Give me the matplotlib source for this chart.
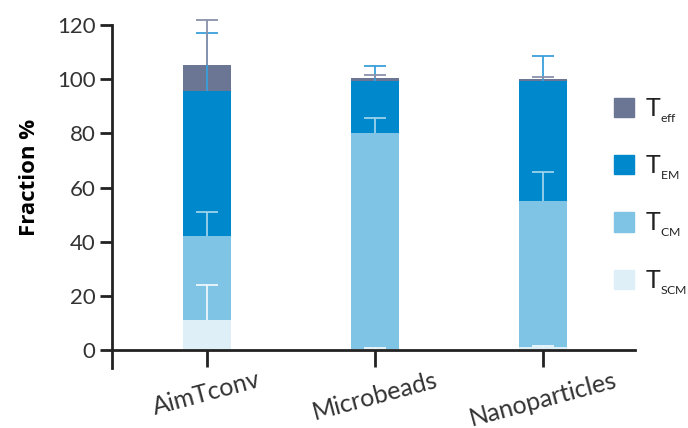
import numpy as np
import matplotlib.pyplot as plt
from matplotlib.patches import Patch

plt.rcParams['font.family'] = ['Lato', 'DejaVu Sans']
plt.rcParams['mathtext.fontset'] = 'custom'
plt.rcParams['mathtext.rm'] = 'Lato'

# T cell subset fractions per expansion method (mean %)
categories = ['AimTconv', 'Microbeads', 'Nanoparticles']
t_scm = [11.0, 0.3, 1.2]
t_cm = [31.0, 79.8, 53.8]
t_em = [53.6, 19.3, 44.4]
t_eff = [9.6, 0.9, 0.6]

# upper error (SD) for each subset
t_scm_err = [13.0, 0.3, 0.4]
t_cm_err = [9.0, 5.4, 10.6]
t_em_err = [21.4, 5.6, 9.2]
t_eff_err = [16.7, 1.2, 0.8]

# double subscript -> small, low-set index like the journal style
labels = [r'$\mathregular{T_{_{SCM}}}$', r'$\mathregular{T_{_{CM}}}$',
          r'$\mathregular{T_{_{EM}}}$', r'$\mathregular{T_{_{eff}}}$']
colors = ['#dfeff8', '#7fc4e4', '#0088cc', '#6b7594']
err_colors = ['#eef7fc', '#9dd2ec', '#3a9fda', '#8a91ab']

fig = plt.figure(figsize=(6.88, 4.28), dpi=100)
ax = fig.add_axes([0.1628, 0.1404, 0.7602, 0.8138])

x = np.arange(len(categories))
width = 0.286
bottom = np.zeros(len(categories))
handles = []
for vals, errs, c, ec, lab in zip([t_scm, t_cm, t_em, t_eff],
                                  [t_scm_err, t_cm_err, t_em_err, t_eff_err],
                                  colors, err_colors, labels):
    vals = np.array(vals)
    ax.bar(x, vals, width, bottom=bottom, color=c, zorder=2)
    top = bottom + vals
    _, caps, _ = ax.errorbar(x, top, yerr=[np.zeros(len(x)), errs], fmt='none',
                             ecolor=ec, elinewidth=1.3, capsize=8, capthick=1.3,
                             zorder=3, clip_on=False)
    caps[0].set_visible(False)  # only the upper whisker gets a cap
    handles.append(Patch(color=c, label=lab))
    bottom = top

ax.set_xlim(-0.565, 2.548)
ax.set_ylim(-6.6, 122)
ax.set_yticks(range(0, 121, 20))
ax.set_xticks(x)
ax.set_xticklabels(categories, family=['Open Sans', 'DejaVu Sans'])
ax.set_ylabel('Fraction %', fontsize=16, fontweight='bold',
              family=['Open Sans', 'DejaVu Sans'])
ax.yaxis.set_label_coords(-0.138, 0.547)

for s in ['top', 'right']:
    ax.spines[s].set_visible(False)
ax.spines['bottom'].set_position(('data', 0))
ax.spines['left'].set_bounds(-6.6, 120)
for s in ['bottom', 'left']:
    ax.spines[s].set_linewidth(2)
    ax.spines[s].set_color('#222222')
ax.tick_params(axis='y', length=9, width=2, color='#222222', pad=3,
               labelsize=16, labelcolor='#333333')
ax.tick_params(axis='x', length=12, width=2, color='#222222', pad=1,
               labelsize=18, labelcolor='#333333', labelrotation=15)

leg = fig.legend(handles=handles[::-1], loc='upper left',
                 bbox_to_anchor=(0.8924, 0.776), frameon=False,
                 fontsize=18, handlelength=0.8, handleheight=0.8,
                 labelspacing=1.15, handletextpad=0.45, borderaxespad=0,
                 borderpad=0, labelcolor='#222222')

fig.savefig('out.png', dpi=100)
